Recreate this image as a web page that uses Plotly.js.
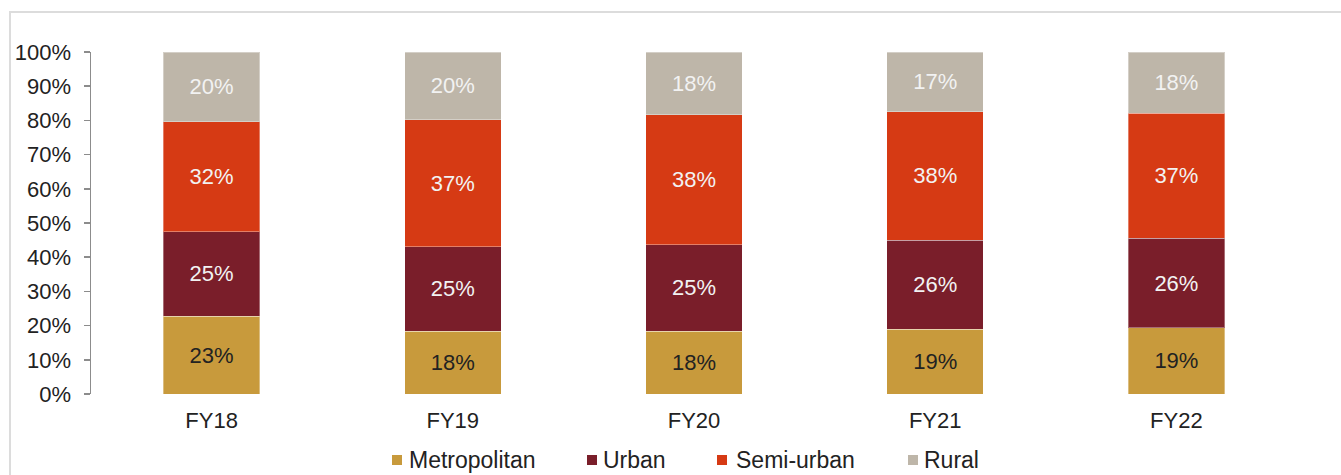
<!DOCTYPE html>
<html>
<head>
<meta charset="utf-8">
<script src="https://cdn.plot.ly/plotly-3.0.1.min.js"></script>
<style>
  html, body { margin: 0; padding: 0; background: #fff; }
  #wrap { position: relative; width: 1341px; height: 475px; overflow: hidden; }
  #frame { position: absolute; left: 9px; top: 11px; width: 1400px; height: 500px;
           border-top: 2px solid #dcdcdc; border-left: 2px solid #dcdcdc; box-sizing: border-box; }
  #chart { position: absolute; left: 0; top: 0; width: 1341px; height: 475px; }
</style>
</head>
<body>
<div id="wrap">
  <div id="frame"></div>
  <div id="chart"></div>
</div>
<script>
const years = ["FY18", "FY19", "FY20", "FY21", "FY22"];
const seriesNames = ["Metropolitan", "Urban", "Semi-urban", "Rural"];
const metropolitan = [22.7, 18.4, 18.4, 19.0, 19.4];
const urban = [24.8, 24.7, 25.2, 25.9, 26.1];
const semiUrban = [32.1, 37.1, 38.0, 37.7, 36.6];
const rural = [20.4, 19.8, 18.4, 17.4, 17.9];
const yTicks = [0, 10, 20, 30, 40, 50, 60, 70, 80, 90, 100];

const colors = ["#C89A3C", "#7A1E2A", "#D63A14", "#BEB6A9"];
const textColors = ["#222222", "#F2F2F2", "#F2F2F2", "#F2F2F2"];
const font = "Liberation Sans, Arial, sans-serif";

const W = 1341, H = 475;
const M = { l: 91, r: 44, t: 52, b: 81 };
const pw = W - M.l - M.r, ph = H - M.t - M.b;
const px2x = px => (px - M.l) / pw;
const py2y = py => (H - M.b - py) / ph;

const allVals = [metropolitan, urban, semiUrban, rural];
const data = allVals.map((vals, i) => ({
  type: "bar", name: seriesNames[i], x: years, y: vals,
  marker: { color: colors[i], line: { color: "rgba(255,255,255,0.35)", width: 1 } },
  texttemplate: "%{y:.0f}%", textposition: "inside", insidetextanchor: "middle",
  textfont: { family: font, size: 22, color: textColors[i] },
  hoverinfo: "skip", showlegend: false
}));

// custom legend (pixel positions of the legend entries)
const legendSquares = [392, 587, 717, 908];
const legendTexts = [408, 602, 735, 923];
const legendY = 460;
const shapes = legendSquares.map((sx, i) => ({
  type: "rect", xref: "paper", yref: "paper",
  x0: px2x(sx), x1: px2x(sx + 10), y0: py2y(legendY + 5), y1: py2y(legendY - 5),
  fillcolor: colors[i], line: { width: 0 }
}));
const annotations = legendTexts.map((tx, i) => ({
  xref: "paper", yref: "paper", x: px2x(tx - 1), y: py2y(legendY),
  xanchor: "left", yanchor: "middle", showarrow: false,
  text: seriesNames[i], font: { family: font, size: 23, color: "#222" }
}));

const layout = {
  width: W, height: H,
  margin: M,
  paper_bgcolor: "rgba(0,0,0,0)", plot_bgcolor: "rgba(0,0,0,0)",
  barmode: "stack", bargap: 0.6,
  font: { family: font, size: 22, color: "#222" },
  xaxis: { showline: false, ticks: "", showgrid: false, zeroline: false, automargin: false,
           tickfont: { family: font, size: 22, color: "#222" }, ticklabelstandoff: 11 },
  yaxis: { range: [0, 100], tickvals: yTicks, ticktext: yTicks.map(v => v + "%"), automargin: false,
           showgrid: false, zeroline: false, showline: true, linecolor: "#8c8c8c", linewidth: 1.5,
           ticks: "outside", ticklen: 6, tickcolor: "#8c8c8c", tickwidth: 1.5,
           tickfont: { family: font, size: 22, color: "#222" }, ticklabelstandoff: 8 },
  showlegend: false,
  shapes: shapes,
  annotations: annotations,
  uniformtext: { mode: false }
};
Plotly.newPlot("chart", data, layout, { displayModeBar: false, staticPlot: true });
</script>
</body>
</html>
